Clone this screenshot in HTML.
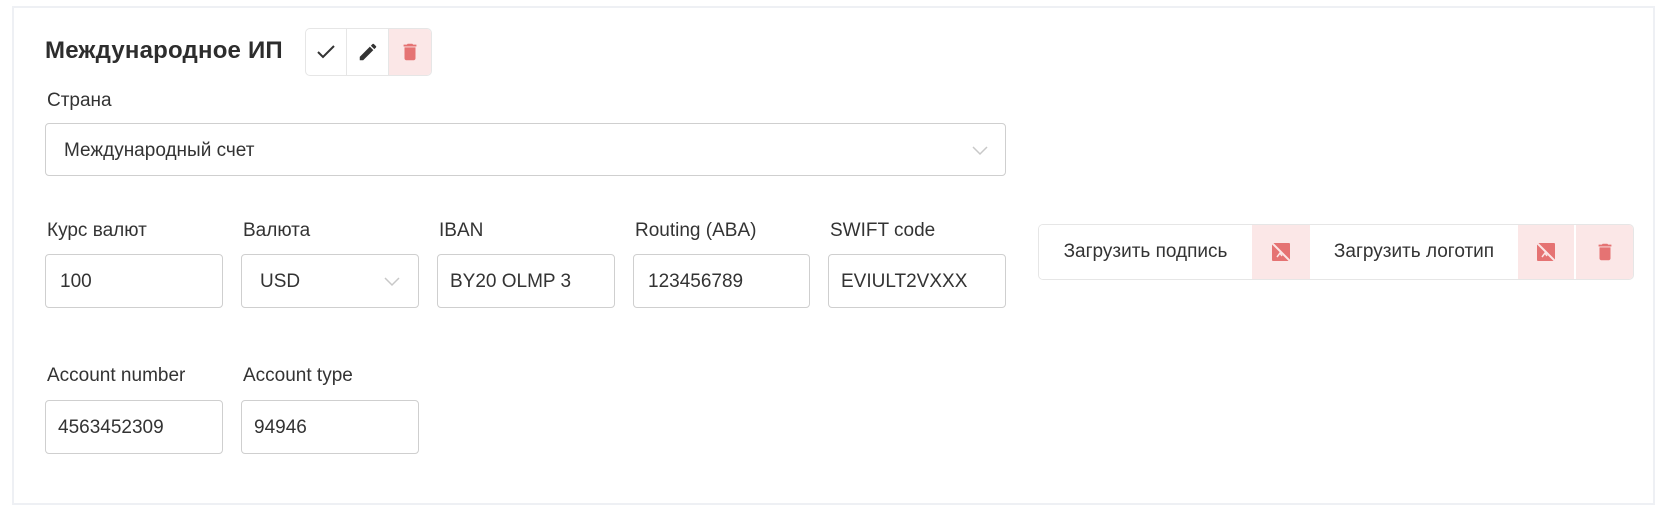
<!DOCTYPE html>
<html><head><meta charset="utf-8"><style>
*{box-sizing:border-box;margin:0;padding:0}
body{width:1680px;height:515px;background:#fff;position:relative;overflow:hidden;font-family:"Liberation Sans",sans-serif;color:#333}
.a{position:absolute}
.card{left:12px;top:6px;width:1643px;height:499px;border:2px solid #eef0f4}
.title{left:45px;top:37px;font-size:24px;font-weight:bold;color:#2d2d2d;letter-spacing:0.2px}
.lbl{font-size:19px;color:#333}
.inp{border:1.5px solid #cfcfcf;border-radius:4px;height:54px;font-size:19px;padding-left:14px;line-height:54px;white-space:nowrap;overflow:hidden;background:#fff}
.grp{border:1.5px solid #e6e6e6;border-radius:5px;overflow:hidden;display:flex}
.grp>div{display:flex;align-items:center;justify-content:center}
.pink{background:#fbe7e7}
</style></head><body>
<div class="a card"></div>
<div class="a title">Международное ИП</div>
<div class="a grp" style="left:305px;top:28px;width:127px;height:48px">
 <div style="width:41px;border-right:1.5px solid #e6e6e6"><svg width="18" height="14" viewBox="0 0 18 14"><path d="M1 7l5 5L17 1" fill="none" stroke="#333" stroke-width="2"/></svg></div>
 <div style="width:42px;border-right:1.5px solid #e6e6e6"><svg width="22" height="22" viewBox="0 0 24 24"><path d="M3 17.25V21h3.75L17.8 9.94l-3.75-3.75L3 17.25zM20.7 7.04a1 1 0 000-1.41l-2.34-2.34a1 1 0 00-1.41 0l-1.83 1.83 3.75 3.75 1.83-1.83z" fill="#333"/></svg></div>
 <div class="pink" style="flex:1"><svg width="22" height="24" viewBox="0 0 24 24"><path d="M6 19c0 1.1.9 2 2 2h8c1.1 0 2-.9 2-2V7H6v12zM19 4h-3.5l-1-1h-5l-1 1H5v2h14V4z" fill="#e57373"/></svg></div>
</div>
<div class="a lbl" style="left:47px;top:90px">Страна</div>
<div class="a inp" style="left:45px;top:123px;width:961px;height:53px;line-height:53px;padding-left:18px">Международный счет</div>
<svg class="a" style="left:972px;top:146px" width="16" height="10" viewBox="0 0 16 10"><path d="M1 1l7 7 7-7" fill="none" stroke="#c8c8c8" stroke-width="1.5"/></svg>

<div class="a lbl" style="left:47px;top:220px">Курс валют</div>
<div class="a lbl" style="left:243px;top:220px">Валюта</div>
<div class="a lbl" style="left:439px;top:220px">IBAN</div>
<div class="a lbl" style="left:635px;top:220px">Routing (ABA)</div>
<div class="a lbl" style="left:830px;top:220px">SWIFT code</div>
<div class="a inp" style="left:45px;top:254px;width:178px">100</div>
<div class="a inp" style="left:241px;top:254px;width:178px;padding-left:18px">USD</div>
<svg class="a" style="left:384px;top:277px" width="16" height="10" viewBox="0 0 16 10"><path d="M1 1l7 7 7-7" fill="none" stroke="#c8c8c8" stroke-width="1.5"/></svg>
<div class="a inp" style="left:437px;top:254px;width:178px;padding-left:12px"><span style="display:inline-block;width:128px;overflow:hidden">BY20 OLMP 3</span></div>
<div class="a inp" style="left:633px;top:254px;width:177px">123456789</div>
<div class="a inp" style="left:828px;top:254px;width:178px;padding-left:12px"><span style="display:inline-block;width:136px;overflow:hidden">EVIULT2VXXX</span></div>

<div class="a grp" style="left:1038px;top:224px;width:596px;height:56px">
 <div style="width:213px;font-size:19px;background:#fff">Загрузить подпись</div>
 <div class="pink" style="width:58px"><svg width="24" height="24" viewBox="0 0 24 24"><rect x="3" y="3" width="18" height="18" rx="1" fill="#e57373"/><path d="M2 2l20 20" stroke="#fbe7e7" stroke-width="2"/><path d="M8 17l3-4 2 3" fill="none" stroke="#fbe7e7" stroke-width="1.5"/></svg></div>
 <div style="width:208px;font-size:19px;background:#fff">Загрузить логотип</div>
 <div class="pink" style="width:58px;border-right:2px solid #fff"><svg width="24" height="24" viewBox="0 0 24 24"><rect x="3" y="3" width="18" height="18" rx="1" fill="#e57373"/><path d="M2 2l20 20" stroke="#fbe7e7" stroke-width="2"/><path d="M8 17l3-4 2 3" fill="none" stroke="#fbe7e7" stroke-width="1.5"/></svg></div>
 <div class="pink" style="flex:1"><svg width="22" height="24" viewBox="0 0 24 24"><path d="M6 19c0 1.1.9 2 2 2h8c1.1 0 2-.9 2-2V7H6v12zM19 4h-3.5l-1-1h-5l-1 1H5v2h14V4z" fill="#e57373"/></svg></div>
</div>

<div class="a lbl" style="left:47px;top:365px">Account number</div>
<div class="a lbl" style="left:243px;top:365px">Account type</div>
<div class="a inp" style="left:45px;top:400px;width:178px;padding-left:12px">4563452309</div>
<div class="a inp" style="left:241px;top:400px;width:178px;padding-left:12px">94946</div>
</body></html>
